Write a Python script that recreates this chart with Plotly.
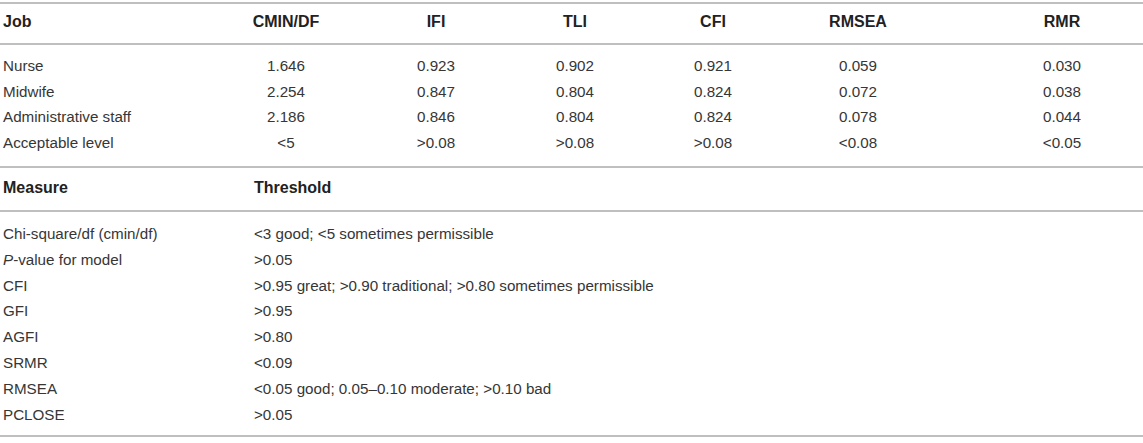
import plotly.graph_objects as go

# ---------------- data ----------------
fit_columns = ["CMIN/DF", "IFI", "TLI", "CFI", "RMSEA", "RMR"]
jobs = ["Nurse", "Midwife", "Administrative staff"]
cmin_df = [1.646, 2.254, 2.186]
ifi = [0.923, 0.847, 0.846]
tli = [0.902, 0.804, 0.804]
cfi = [0.921, 0.824, 0.824]
rmsea = [0.059, 0.072, 0.078]
rmr = [0.030, 0.038, 0.044]
acceptable_label = "Acceptable level"
acceptable_level = ["<5", ">0.08", ">0.08", ">0.08", "<0.08", "<0.05"]

measures = ["Chi-square/df (cmin/df)", "<i>P</i>-value for model", "CFI", "GFI",
            "AGFI", "SRMR", "RMSEA", "PCLOSE"]
thresholds = ["<3 good; <5 sometimes permissible", ">0.05",
              ">0.95 great; >0.90 traditional; >0.80 sometimes permissible",
              ">0.95", ">0.80", "<0.09",
              "<0.05 good; 0.05–0.10 moderate; >0.10 bad", ">0.05"]

# ---------------- layout constants ----------------
W, H = 1143, 443
FONT = "Liberation Sans, Arial, Helvetica, sans-serif"
FS = 15.2
FS_B = 16
TXT = "#363636"
HDR = "#222222"
LINE = "#bfbfbf"

col_x = [286, 436, 575, 713, 858, 1062]
left_x = 3
thr_x = 254
head1_y = 23
row1_y0, row1_dy = 67, 25.8
head2_y = 189
row2_y0, row2_dy = 235, 25.9
line_ys = [3, 44, 167, 211, 436]


def esc(s):
    return s.replace("<i>", "\x00").replace("</i>", "\x01").replace("<", "&lt;").replace(">", "&gt;") \
            .replace("\x00", "<i>").replace("\x01", "</i>")


fig = go.Figure()


def add_text(xs, ys, texts, pos, bold=False):
    fig.add_trace(go.Scatter(
        x=xs, y=ys, mode="text", text=[("<b>%s</b>" % esc(t)) if bold else esc(t) for t in texts],
        textposition=pos, hoverinfo="skip", showlegend=False,
        textfont=dict(family=FONT, size=FS_B if bold else FS, color=HDR if bold else TXT)))


# header row 1
add_text([left_x], [head1_y], ["Job"], "middle right", bold=True)
add_text(col_x, [head1_y] * len(col_x), fit_columns, "middle center", bold=True)

# body 1
series = [cmin_df, ifi, tli, cfi, rmsea, rmr]
row_labels = jobs + [acceptable_label]
ys1 = [row1_y0 + i * row1_dy for i in range(len(row_labels))]
add_text([left_x] * len(row_labels), ys1, row_labels, "middle right")
for ci, vals in enumerate(series):
    cells = ["%.3f" % v for v in vals] + [acceptable_level[ci]]
    add_text([col_x[ci]] * len(cells), ys1, cells, "middle center")

# header row 2
add_text([left_x], [head2_y], ["Measure"], "middle right", bold=True)
add_text([thr_x], [head2_y], ["Threshold"], "middle right", bold=True)

# body 2
ys2 = [row2_y0 + i * row2_dy for i in range(len(measures))]
add_text([left_x] * len(measures), ys2, measures, "middle right")
add_text([thr_x] * len(thresholds), ys2, thresholds, "middle right")

for y in line_ys:
    fig.add_shape(type="line", xref="paper", x0=0, x1=1, yref="y", y0=y, y1=y,
                  line=dict(color=LINE, width=2))

fig.update_layout(
    width=W, height=H, margin=dict(l=0, r=0, t=0, b=0),
    paper_bgcolor="white", plot_bgcolor="white",
    xaxis=dict(range=[0, W], visible=False, fixedrange=True),
    yaxis=dict(range=[H, 0], visible=False, fixedrange=True),
)
fig.write_html("out.html", config={"displayModeBar": False},
               post_script="document.body.style.margin='0';document.body.style.overflow='hidden';")
